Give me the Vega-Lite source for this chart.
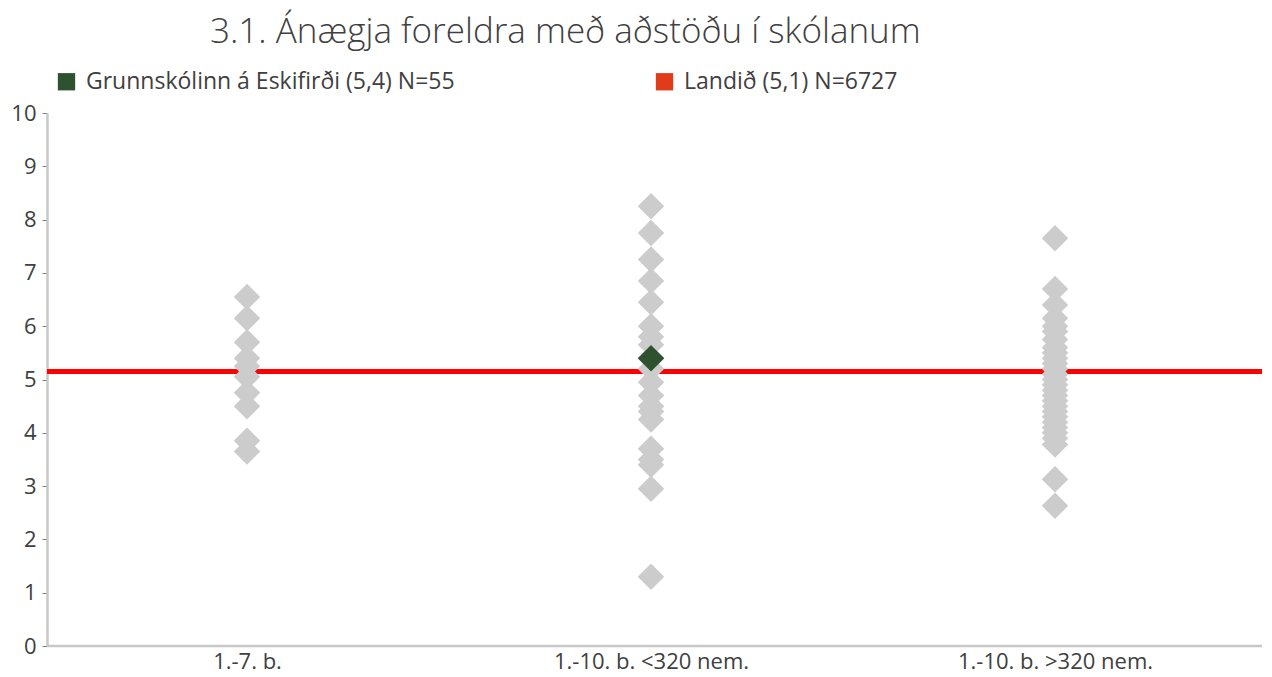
{
  "$schema": "https://vega.github.io/schema/vega-lite/v6.json",
  "width": 1215,
  "height": 533,
  "autosize": {"type": "none"},
  "padding": {"left": 47, "top": 113, "right": 10, "bottom": 31},
  "background": "white",
  "title": {
    "text": "3.1. Ánægja foreldra með aðstöðu í skólanum",
    "anchor": "start",
    "frame": "group",
    "dx": 163,
    "offset": 20,
    "fontSize": 35,
    "font": "Open Sans",
    "fontWeight": 300,
    "color": "#404040"
  },
  "config": {"view": {"stroke": null}, "font": "Open Sans"},
  "datasets": {
    "schools": [
      {"cat": "1.-7. b.", "v": 6.55},
      {"cat": "1.-7. b.", "v": 6.15},
      {"cat": "1.-7. b.", "v": 5.7},
      {"cat": "1.-7. b.", "v": 5.4},
      {"cat": "1.-7. b.", "v": 5.25},
      {"cat": "1.-7. b.", "v": 5.05},
      {"cat": "1.-7. b.", "v": 4.75},
      {"cat": "1.-7. b.", "v": 4.5},
      {"cat": "1.-7. b.", "v": 3.85},
      {"cat": "1.-7. b.", "v": 3.65},
      {"cat": "1.-10. b. <320 nem.", "v": 8.25},
      {"cat": "1.-10. b. <320 nem.", "v": 7.75},
      {"cat": "1.-10. b. <320 nem.", "v": 7.25},
      {"cat": "1.-10. b. <320 nem.", "v": 6.85},
      {"cat": "1.-10. b. <320 nem.", "v": 6.45},
      {"cat": "1.-10. b. <320 nem.", "v": 6.0},
      {"cat": "1.-10. b. <320 nem.", "v": 5.8},
      {"cat": "1.-10. b. <320 nem.", "v": 5.65},
      {"cat": "1.-10. b. <320 nem.", "v": 5.4},
      {"cat": "1.-10. b. <320 nem.", "v": 5.2},
      {"cat": "1.-10. b. <320 nem.", "v": 4.95},
      {"cat": "1.-10. b. <320 nem.", "v": 4.7},
      {"cat": "1.-10. b. <320 nem.", "v": 4.5},
      {"cat": "1.-10. b. <320 nem.", "v": 4.4},
      {"cat": "1.-10. b. <320 nem.", "v": 4.25},
      {"cat": "1.-10. b. <320 nem.", "v": 3.7},
      {"cat": "1.-10. b. <320 nem.", "v": 3.5},
      {"cat": "1.-10. b. <320 nem.", "v": 3.4},
      {"cat": "1.-10. b. <320 nem.", "v": 2.95},
      {"cat": "1.-10. b. <320 nem.", "v": 1.3},
      {"cat": "1.-10. b. >320 nem.", "v": 7.65},
      {"cat": "1.-10. b. >320 nem.", "v": 6.7},
      {"cat": "1.-10. b. >320 nem.", "v": 6.4},
      {"cat": "1.-10. b. >320 nem.", "v": 6.15},
      {"cat": "1.-10. b. >320 nem.", "v": 6.0},
      {"cat": "1.-10. b. >320 nem.", "v": 5.9},
      {"cat": "1.-10. b. >320 nem.", "v": 5.75},
      {"cat": "1.-10. b. >320 nem.", "v": 5.6},
      {"cat": "1.-10. b. >320 nem.", "v": 5.5},
      {"cat": "1.-10. b. >320 nem.", "v": 5.4},
      {"cat": "1.-10. b. >320 nem.", "v": 5.3},
      {"cat": "1.-10. b. >320 nem.", "v": 5.2},
      {"cat": "1.-10. b. >320 nem.", "v": 5.1},
      {"cat": "1.-10. b. >320 nem.", "v": 5.0},
      {"cat": "1.-10. b. >320 nem.", "v": 4.9},
      {"cat": "1.-10. b. >320 nem.", "v": 4.8},
      {"cat": "1.-10. b. >320 nem.", "v": 4.7},
      {"cat": "1.-10. b. >320 nem.", "v": 4.6},
      {"cat": "1.-10. b. >320 nem.", "v": 4.5},
      {"cat": "1.-10. b. >320 nem.", "v": 4.4},
      {"cat": "1.-10. b. >320 nem.", "v": 4.3},
      {"cat": "1.-10. b. >320 nem.", "v": 4.2},
      {"cat": "1.-10. b. >320 nem.", "v": 4.1},
      {"cat": "1.-10. b. >320 nem.", "v": 4.0},
      {"cat": "1.-10. b. >320 nem.", "v": 3.9},
      {"cat": "1.-10. b. >320 nem.", "v": 3.78},
      {"cat": "1.-10. b. >320 nem.", "v": 3.13},
      {"cat": "1.-10. b. >320 nem.", "v": 2.63}
    ],
    "national": [{"v": 5.15, "s": "Landið (5,1) N=6727"}],
    "own": [{"cat": "1.-10. b. <320 nem.", "v": 5.4, "s": "Grunnskólinn á Eskifirði (5,4) N=55"}]
  },
  "layer": [
    {
      "data": {"name": "national"},
      "mark": {"type": "rule", "color": "#C8C8C8", "strokeWidth": 2.5},
      "encoding": {"y": {"datum": 0, "type": "quantitative"}}
    },
    {
      "data": {"name": "national"},
      "mark": {"type": "rule", "color": "#FF0000", "strokeWidth": 5},
      "encoding": {
        "y": {"field": "v", "type": "quantitative", "scale": {"domain": [0, 10]}},
        "fill": {
          "field": "s",
          "type": "nominal",
          "scale": {
            "domain": ["Grunnskólinn á Eskifirði (5,4) N=55", "Landið (5,1) N=6727"],
            "range": ["#2E5130", "#E03C1A"]
          },
          "legend": {
            "title": null,
            "orient": "none",
            "legendX": 8,
            "legendY": -43,
            "direction": "horizontal",
            "columns": 2,
            "columnPadding": 198,
            "symbolType": "square",
            "symbolSize": 300,
            "symbolStrokeWidth": 0,
            "symbolStrokeColor": "transparent",
            "labelFontSize": 23,
            "labelFont": "Open Sans",
            "labelColor": "#404040",
            "labelOffset": 8,
            "labelLimit": 600,
            "encode": {
              "symbols": {
                "update": {
                  "fill": {"scale": "fill", "field": "value"},
                  "stroke": {"value": "transparent"},
                  "strokeWidth": {"value": 0},
                  "opacity": {"value": 1}
                }
              }
            }
          }
        }
      }
    },
    {
      "data": {"name": "schools"},
      "mark": {"type": "point", "shape": "diamond", "filled": true, "size": 700, "color": "#CCCCCC", "opacity": 1},
      "encoding": {
        "x": {
          "field": "cat",
          "type": "nominal",
          "sort": ["1.-7. b.", "1.-10. b. <320 nem.", "1.-10. b. >320 nem."],
          "scale": {"type": "point", "range": [200, 1008], "padding": 0},
          "axis": {
            "title": null,
            "labelAngle": 0,
            "ticks": false,
            "domain": false,
            "labelFontSize": 22,
            "labelFont": "Open Sans",
            "labelColor": "#404040",
            "labelPadding": 5,
            "labelLimit": 400,
            "grid": false
          }
        },
        "y": {
          "field": "v",
          "type": "quantitative",
          "scale": {"domain": [0, 10]},
          "axis": {
            "title": null,
            "values": [0, 1, 2, 3, 4, 5, 6, 7, 8, 9, 10],
            "grid": false,
            "labelFontSize": 22,
            "labelFont": "Open Sans",
            "labelColor": "#404040",
            "labelPadding": 6,
            "tickSize": 5,
            "tickColor": "#808080",
            "domainColor": "#C8C8C8",
            "domainWidth": 2.5
          }
        }
      }
    },
    {
      "data": {"name": "own"},
      "mark": {"type": "point", "shape": "diamond", "filled": true, "size": 700, "opacity": 1},
      "encoding": {
        "x": {"field": "cat", "type": "nominal", "sort": ["1.-7. b.", "1.-10. b. <320 nem.", "1.-10. b. >320 nem."]},
        "y": {"field": "v", "type": "quantitative"},
        "fill": {"field": "s", "type": "nominal"}
      }
    }
  ]
}
